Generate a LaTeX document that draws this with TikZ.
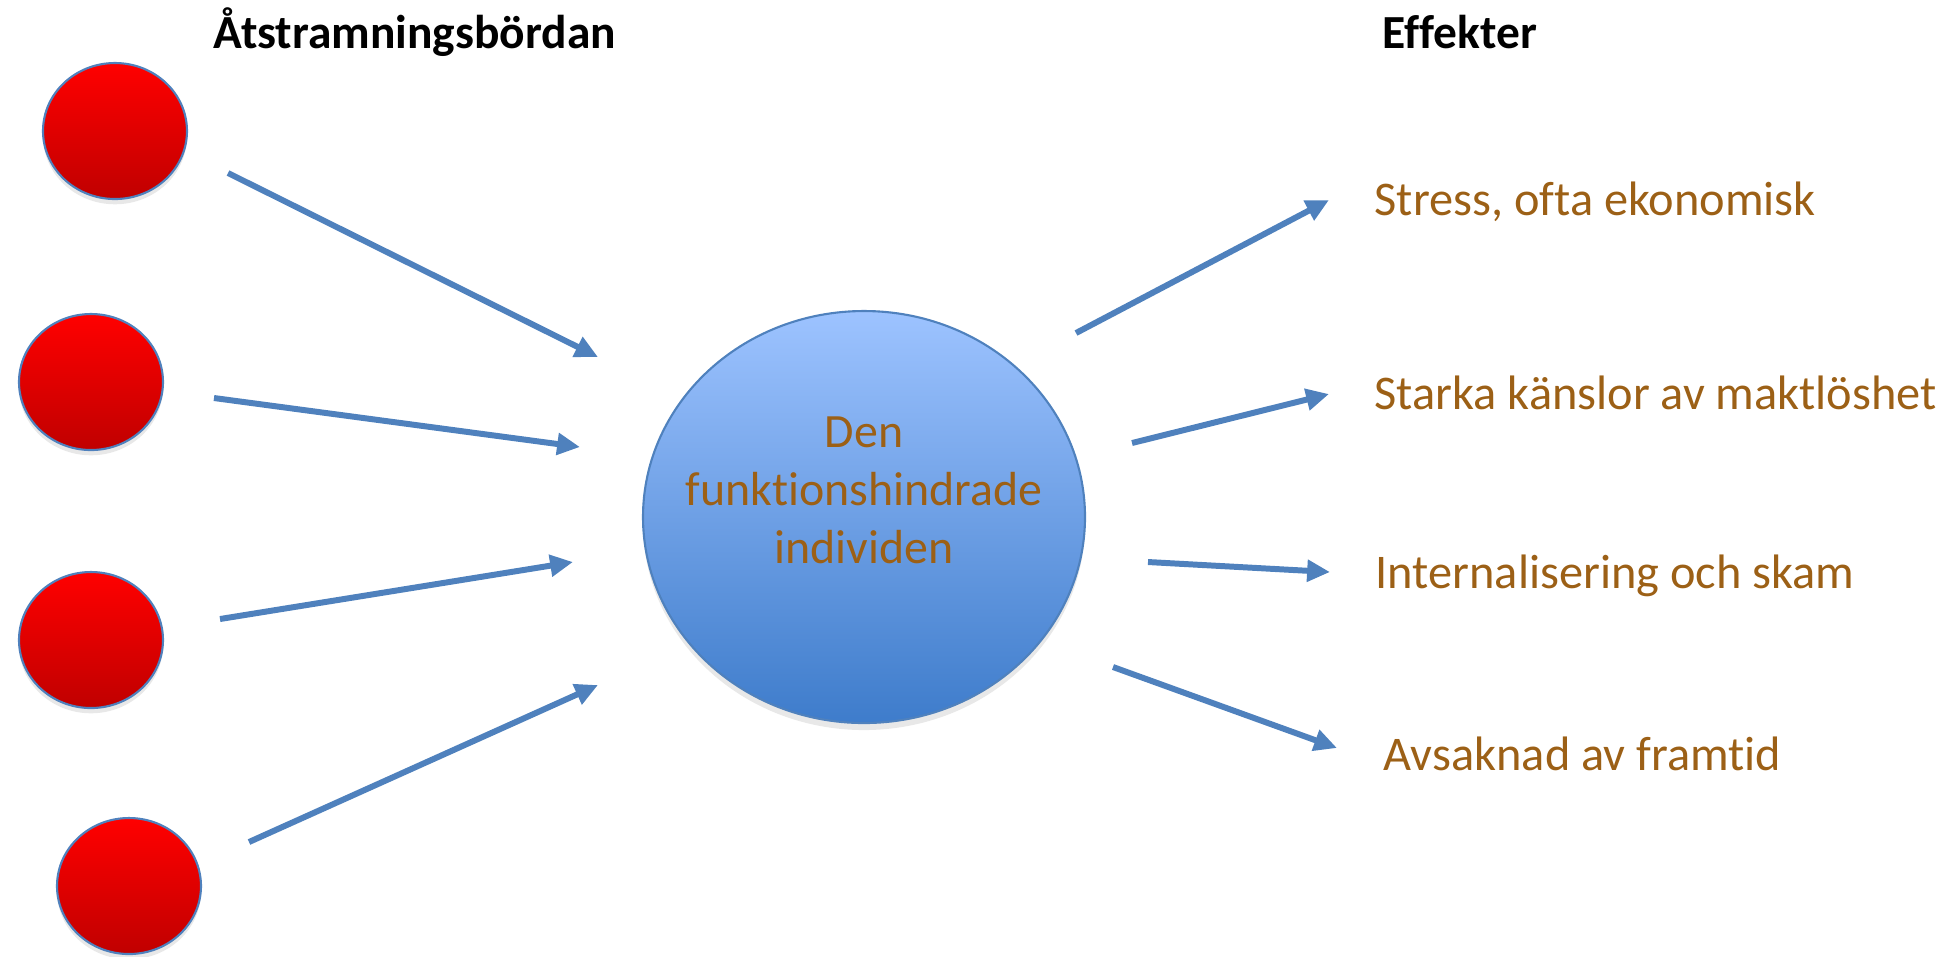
\documentclass[tikz,border=0pt]{standalone}
\usepackage{fontspec}
\setmainfont{Carlito}[Ligatures=NoCommon]
\usetikzlibrary{arrows.meta}
\usetikzlibrary{shapes.geometric}
\usetikzlibrary{shadows}

\definecolor{effectbrown}{RGB}{156,96,22}
\definecolor{linkblue}{RGB}{79,129,189}

\begin{document}
\begin{tikzpicture}[x=0.01cm, y=-0.01cm,
    burden node/.style={ellipse, draw=linkblue, line width=0.6pt, minimum width=144*0.01cm, minimum height=136*0.01cm,
      top color={rgb,255:red,255;green,0;blue,0}, bottom color={rgb,255:red,192;green,0;blue,0},
      drop shadow={opacity=0.18, shadow xshift=0pt, shadow yshift=-1.5pt}},
    effect text/.style={anchor=base west, text=effectbrown, font=\fontsize{13.75}{16}\selectfont, inner sep=0pt},
    head text/.style={anchor=base west, font=\fontsize{13.5}{16}\selectfont\bfseries, inner sep=0pt},
    link/.style={draw=linkblue, line width=1.7pt, -{Triangle[length=6.5pt, width=6pt]}},
    ]
  \useasboundingbox (0,0) rectangle (1949,956);

  % headings
  \node[head text] (burden) at (213,48) {Åtstramningsbördan};
  \node[head text] (effects) at (1382,48) {Effekter};

  % the four burdens
  \node[burden node] (b1) at (115,131) {};
  \node[burden node] (b2) at (91,382) {};
  \node[burden node] (b3) at (91,640) {};
  \node[burden node] (b4) at (129,886) {};

  % the individual
  \node[ellipse, draw=linkblue, line width=0.6pt, minimum width=442*0.01cm, minimum height=412*0.01cm,
    top color={rgb,255:red,157;green,195;blue,255}, bottom color={rgb,255:red,62;green,124;blue,203},
    drop shadow={opacity=0.18, shadow xshift=0pt, shadow yshift=-2pt}] (ind) at (864,517) {};
  \node[align=center, text=effectbrown, font=\fontsize{13.6}{16.4}\selectfont, anchor=base] (indtext) at (864,563)
    {Den\\funktionshindrade\\individen};

  % effects
  \node[effect text] (e1) at (1374,215) {Stress, ofta ekonomisk};
  \node[effect text] (e2) at (1374,409) {Starka känslor av maktlöshet};
  \node[effect text] (e3) at (1375,588) {Internalisering och skam};
  \node[effect text] (e4) at (1383,770) {Avsaknad av framtid};

  % arrow ends
  \coordinate (s1) at (228,173);  \coordinate (t1) at (598,357);
  \coordinate (s2) at (214,398);  \coordinate (t2) at (580,447);
  \coordinate (s3) at (220,619);  \coordinate (t3) at (573,562);
  \coordinate (s4) at (249,842);  \coordinate (t4) at (598,685);

  \coordinate (u1) at (1076,333); \coordinate (v1) at (1329,200);
  \coordinate (u2) at (1132,443); \coordinate (v2) at (1329,394);
  \coordinate (u3) at (1148,562); \coordinate (v3) at (1330,572);
  \coordinate (u4) at (1113,667); \coordinate (v4) at (1337,748);

  \foreach \i in {1,...,4} {
    \draw[link] (s\i) -- (t\i);
    \draw[link] (u\i) -- (v\i);
  }
\end{tikzpicture}
\end{document}
